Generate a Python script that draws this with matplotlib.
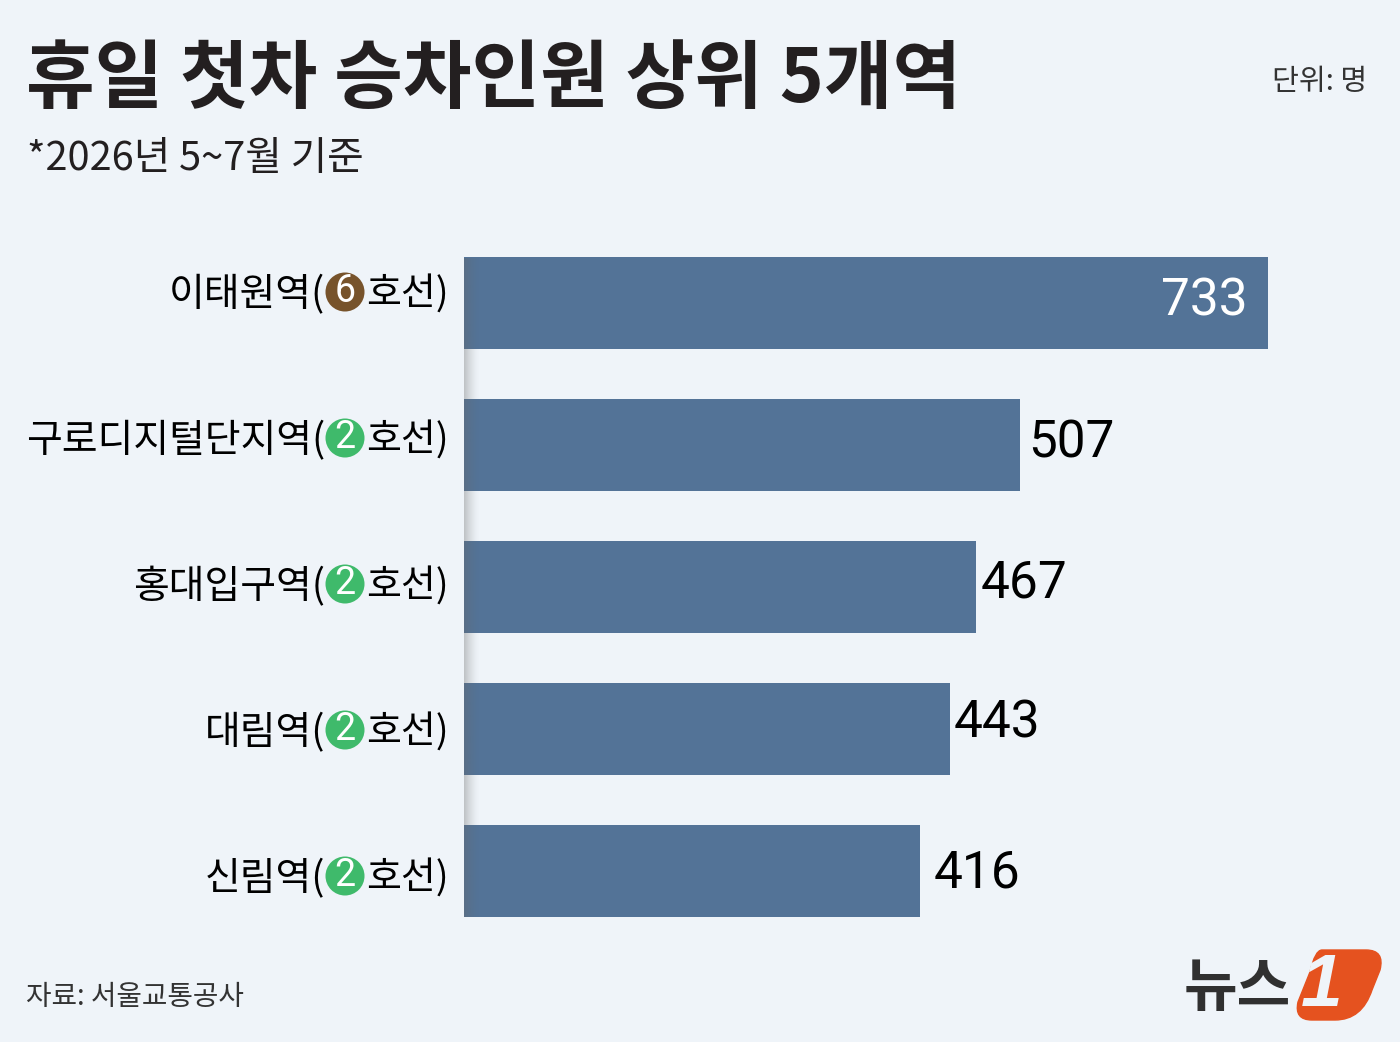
import numpy as np
import matplotlib
matplotlib.use("Agg")
import matplotlib.pyplot as plt
from matplotlib.patches import Circle, PathPatch
from matplotlib.path import Path

stations = ["이태원역", "구로디지털단지역", "홍대입구역", "대림역", "신림역"]
lines = ["6", "2", "2", "2", "2"]
values = [733, 507, 467, 443, 416]
title = "휴일 첫차 승차인원 상위 5개역"
subtitle = "*2026년 5~7월 기준"
unit = "단위: 명"
source = "자료: 서울교통공사"

BG = "#eff4f9"
BAR = "#537397"
LINE_COL = {"6": "#77532b", "2": "#3fba6b"}
KR = ["Noto Sans CJK KR", "DejaVu Sans"]
NUM = ["Roboto"]

W, H = 1400, 1042
fig = plt.figure(figsize=(W / 100, H / 100), dpi=100, facecolor=BG)

# bar chart axes
top, bottom, left = 232, 942, 464
ax = fig.add_axes([left / W, 1 - bottom / H, (W - left) / W, (bottom - top) / H], zorder=1)
ax.set_xlim(0, (W - left) / 1.0969)
ax.set_ylim(4.5, -0.5)
ax.axis("off")
y = np.arange(len(values))
ax.barh(y, values, height=0.645, color=BAR, zorder=2)

# pixel overlay for text and decoration
ov = fig.add_axes([0, 0, 1, 1], zorder=3)
ov.patch.set_alpha(0)
ov.axis("off")

# soft shadow beside the axis
grad = np.zeros((1, 32, 4))
grad[..., :3] = 0.4
grad[0, :, 3] = np.linspace(0.5, 0, 32) ** 1.5
ov.imshow(grad, extent=(464, 480, 917, 258), aspect="auto", zorder=1)
ov.set_xlim(0, W); ov.set_ylim(H, 0)

ov.text(26, 80, title, fontsize=53.7, fontweight="bold", family=KR, color="#231f20",
        ha="left", va="center")
ov.text(27, 159, subtitle, fontsize=28.6, family=KR, color="#231f20", ha="left", va="center")
ov.text(1367, 82, unit, fontsize=21, family=KR, color="#333333", ha="right", va="center")
ov.text(26, 997, source, fontsize=20, family=KR, color="#333333", ha="left", va="center")

label_y = [295, 441, 587, 733, 879]
for st, ln, ly in zip(stations, lines, label_y):
    ov.text(449, ly, "호선)", fontsize=27.3, family=KR, color="black", ha="right", va="center")
    ov.text(325, ly, st + "(", fontsize=28, family=KR, color="black", ha="right", va="center")
    ov.add_patch(Circle((345, ly - 3), 19.5, color=LINE_COL[ln], lw=0, zorder=3))
    ov.text(345, ly - 4, ln, fontsize=27, family=["Roboto"], color="white",
            ha="center", va="center", zorder=4)

# value labels
offsets = [0, 8, 4, 4, 13]
val_y = [301, 444, 584, 723, 873]
for i, (v, off, vy) in enumerate(zip(values, offsets, val_y)):
    if i == 0:
        ov.text(1248, vy, str(v), fontsize=37, family=NUM, color="white",
                ha="right", va="center", zorder=5)
    else:
        xp = left + v * 1.0969 + off
        ov.text(xp, vy, str(v), fontsize=37, family=NUM, color="black",
                ha="left", va="center", zorder=5)

# logo
ov.text(1237, 989, "뉴스", fontsize=42, fontweight="bold", family=KR, color="#303030",
        ha="center", va="center")
pts = [(1322, 950), (1366, 950), (1385, 950), (1380, 970), (1372, 990), (1362, 1020), (1335, 1020),
       (1312, 1020), (1294, 1020), (1298, 1002), (1310, 972), (1315, 950), (1322, 950), (1322, 950)]
codes = [Path.MOVETO, Path.LINETO, Path.CURVE3, Path.CURVE3, Path.LINETO, Path.CURVE3, Path.CURVE3,
         Path.LINETO, Path.CURVE3, Path.CURVE3, Path.LINETO, Path.CURVE3, Path.CURVE3, Path.CLOSEPOLY]
ov.add_patch(PathPatch(Path(pts, codes), fc="#e5521f", ec="#e5521f", lw=1, zorder=3))
ov.text(1322, 986, "1", fontsize=54, fontweight="bold", family=["Liberation Sans"], color=BG,
        ha="center", va="center", style="italic", zorder=4)

fig.savefig("out.png", dpi=100, facecolor=BG)
